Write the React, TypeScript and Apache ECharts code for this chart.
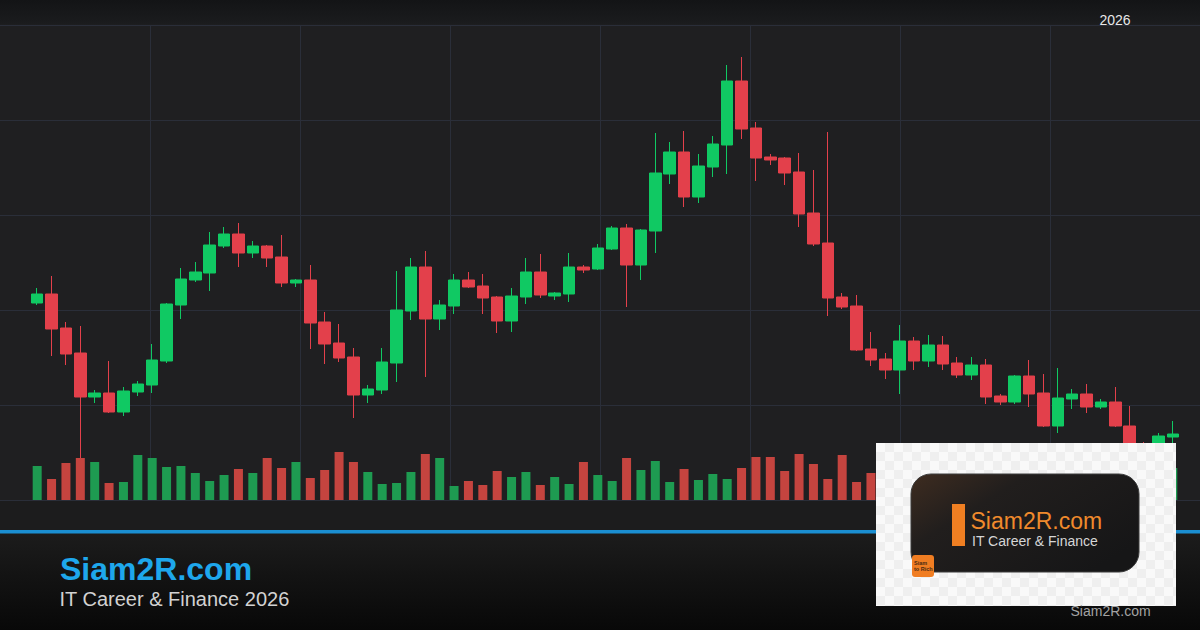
import React, { useEffect, useRef } from "react";
import * as echarts from "echarts";

// Daily OHLC: [open, close, low, high]
const ohlc: number[][] = [
  [197, 206, 195, 212], [206, 171, 144, 224], [172, 146, 135, 178], [147, 103, 42, 174],
  [103, 107, 97, 110], [107, 88, 87, 139], [88, 109, 84, 113], [108, 116, 104, 119],
  [115, 140, 107, 156], [139, 196, 137, 197], [195, 221, 181, 232], [220, 228, 218, 238],
  [227, 255, 209, 268], [254, 266, 252, 273], [266, 247, 233, 277], [247, 254, 242, 259],
  [254, 242, 233, 255], [243, 217, 213, 265], [217, 220, 213, 221], [220, 177, 151, 235],
  [178, 156, 136, 188], [157, 142, 138, 176], [143, 105, 82, 152], [105, 111, 97, 115],
  [110, 138, 106, 152], [137, 190, 118, 229], [189, 233, 180, 242], [233, 181, 123, 249],
  [181, 195, 170, 200], [194, 220, 186, 226], [220, 213, 212, 228], [214, 202, 186, 226],
  [203, 179, 167, 204], [179, 204, 168, 212], [203, 228, 196, 242], [228, 205, 202, 246],
  [204, 207, 200, 208], [206, 233, 198, 247], [233, 230, 227, 235], [231, 252, 230, 256],
  [251, 272, 250, 274], [272, 235, 193, 276], [235, 270, 220, 271], [269, 327, 247, 367],
  [326, 348, 316, 358], [348, 303, 293, 369], [303, 334, 297, 346], [333, 356, 323, 364],
  [355, 419, 326, 435], [419, 371, 361, 443], [372, 342, 319, 378], [343, 340, 335, 346],
  [342, 327, 315, 343], [328, 286, 273, 347], [287, 256, 254, 330], [257, 202, 184, 368],
  [203, 193, 191, 207], [194, 150, 149, 205], [151, 140, 134, 168], [141, 130, 121, 147],
  [130, 159, 106, 175], [159, 139, 130, 163], [139, 155, 133, 165], [155, 136, 130, 164],
  [137, 125, 122, 143], [125, 135, 120, 143], [135, 103, 96, 141], [104, 98, 95, 106],
  [98, 124, 96, 125], [124, 106, 93, 140], [107, 74, 73, 126], [74, 102, 67, 132],
  [101, 106, 91, 111], [106, 93, 87, 116], [93, 98, 91, 101], [98, 74, 73, 113],
  [74, 53, 48, 94], [53, 50, 44, 58], [52, 64, 50, 67], [63, 66, 57, 79],
];

// Volume (thousands)
const volumes: number[] = [
  680, 420, 740, 840, 760, 340, 360, 900, 840, 660,
  680, 540, 380, 500, 620, 540, 840, 640, 760, 440,
  600, 960, 760, 560, 320, 340, 560, 920, 840, 280,
  380, 300, 580, 460, 560, 300, 460, 320, 760, 500,
  380, 840, 600, 780, 360, 620, 400, 520, 420, 640,
  860, 860, 580, 920, 720, 420, 900, 360, 540, 600,
  760, 500, 560, 660, 400, 480, 700, 360, 520, 600,
  800, 720, 440, 540, 380, 620, 740, 480, 580, 640,
];

// Trading-day labels (hidden axis)
const categories: string[] = (() => {
  const out: string[] = [];
  const d = new Date(Date.UTC(2025, 8, 1));
  while (out.length < ohlc.length) {
    const wd = d.getUTCDay();
    if (wd !== 0 && wd !== 6) {
      out.push(`${d.getUTCFullYear()}-${String(d.getUTCMonth() + 1).padStart(2, "0")}-${String(d.getUTCDate()).padStart(2, "0")}`);
    }
    d.setUTCDate(d.getUTCDate() + 1);
  }
  return out;
})();

const titleText = "Siam2R.com";
const subtitleText = "IT Career & Finance 2026";
const yearText = "2026";
const cardTitle = "Siam2R.com";
const cardSubtitle = "IT Career & Finance";

const UP = "#10c963";
const DOWN = "#e3404b";
const VOL_UP = "#1e9b51";
const VOL_DOWN = "#c5443f";
const GRID_LINE = "#2a2e39";
const FONT = "'Liberation Sans', Arial, sans-serif";

function buildChecker() {
  const items: any[] = [];
  const x0 = 876, y0 = 443, w = 300, h = 163, s = 9;
  for (let r = 0; r * s < h; r++) {
    for (let c = 0; c * s < w; c++) {
      if ((r + c) % 2 === 1) {
        items.push({
          type: "rect",
          z: 100,
          silent: true,
          shape: { x: x0 + c * s, y: y0 + r * s, width: Math.min(s, w - c * s), height: Math.min(s, h - r * s) },
          style: { fill: "#efefef" },
        });
      }
    }
  }
  return items;
}

export default function App() {
  const ref = useRef<HTMLDivElement>(null);

  useEffect(() => {
    if (!ref.current) return;
    const chart = echarts.init(ref.current, null, { renderer: "svg" });

    const volData = volumes.map((v, i) => ({
      value: v,
      itemStyle: { color: ohlc[i][1] >= ohlc[i][0] ? VOL_UP : VOL_DOWN },
    }));

    const hiddenAxis = {
      axisLine: { show: false },
      axisTick: { show: false },
      axisLabel: { show: false },
    };

    const option: any = {
      animation: false,
      backgroundColor: "#1f1f21",
      grid: [
        { left: 0, right: 0, top: 25, bottom: 130, show: false },
        { left: 30, right: 20, top: 25, bottom: 130, show: false },
      ],
      xAxis: [
        {
          type: "value", gridIndex: 0, min: 0, max: 1200, interval: 150, ...hiddenAxis,
          splitLine: { show: true, showMinLine: false, showMaxLine: false, lineStyle: { color: GRID_LINE, width: 1 } },
        },
        {
          type: "category", gridIndex: 1, data: categories, boundaryGap: true, ...hiddenAxis,
          splitLine: { show: false },
        },
      ],
      yAxis: [
        {
          type: "value", gridIndex: 0, min: 0, max: 5, interval: 1, ...hiddenAxis,
          splitLine: { show: true, lineStyle: { color: GRID_LINE, width: 1 } },
        },
        { type: "value", gridIndex: 1, min: 0, max: 475, ...hiddenAxis, splitLine: { show: false } },
        { type: "value", gridIndex: 1, min: 0, max: 9500, ...hiddenAxis, splitLine: { show: false } },
      ],
      series: [
        {
          type: "bar",
          xAxisIndex: 1,
          yAxisIndex: 2,
          data: volData,
          barWidth: 9,
          z: 2,
        },
        {
          type: "candlestick",
          xAxisIndex: 1,
          yAxisIndex: 1,
          data: ohlc,
          barWidth: 12,
          z: 3,
          itemStyle: {
            color: UP,
            color0: DOWN,
            borderColor: UP,
            borderColor0: DOWN,
            borderWidth: 1,
          },
        },
      ],
      graphic: [
        {
          type: "rect", z: -1, silent: true,
          shape: { x: 0, y: 0, width: 1200, height: 24.5 },
          style: {
            fill: { type: "linear", x: 0, y: 0, x2: 0, y2: 1, colorStops: [{ offset: 0, color: "#131416" }, { offset: 1, color: "#1b1c1e" }] },
          },
        },
        {
          type: "rect", z: -1, silent: true,
          shape: { x: 0, y: 500.5, width: 1200, height: 30 },
          style: { fill: "#1c1c1d" },
        },
        {
          type: "rect", z: -1, silent: true,
          shape: { x: 0, y: 533, width: 1200, height: 97 },
          style: {
            fill: { type: "linear", x: 0, y: 0, x2: 0, y2: 1, colorStops: [{ offset: 0, color: "#1c1c1c" }, { offset: 1, color: "#080808" }] },
          },
        },
        {
          type: "rect", z: 50, silent: true,
          shape: { x: 0, y: 530, width: 1200, height: 3.5 },
          style: { fill: "#1b8fd2" },
        },
        {
          type: "text", z: 50, x: 60, y: 568.5,
          style: { text: titleText, fill: "#1ea7ec", font: `bold 32px ${FONT}`, textAlign: "left", textVerticalAlign: "middle" },
        },
        {
          type: "text", z: 50, x: 59.5, y: 599,
          style: { text: subtitleText, fill: "#d2d2d2", font: `20px ${FONT}`, textAlign: "left", textVerticalAlign: "middle" },
        },
        {
          type: "text", z: 50, x: 1099.5, y: 20,
          style: { text: yearText, fill: "#e8e8e8", font: `14px ${FONT}`, textAlign: "left", textVerticalAlign: "middle" },
        },
        // Logo image block
        {
          type: "rect", z: 99, silent: true,
          shape: { x: 876, y: 443, width: 300, height: 163 },
          style: { fill: "#f9f9f9" },
        },
        ...buildChecker(),
        {
          type: "rect", z: 101, silent: true,
          shape: { x: 911, y: 474, width: 228, height: 98, r: 20 },
          style: {
            fill: {
              type: "linear", x: 0, y: 0, x2: 1, y2: 0.7,
              colorStops: [
                { offset: 0, color: "#3e2c20" },
                { offset: 0.35, color: "#211e1d" },
                { offset: 1, color: "#161617" },
              ],
            },
            stroke: "#3c3c3c",
            lineWidth: 1,
          },
        },
        {
          type: "rect", z: 102, silent: true,
          shape: { x: 952, y: 504, width: 13, height: 42 },
          style: { fill: "#f07f22" },
        },
        {
          type: "text", z: 102, x: 970.5, y: 521,
          style: { text: cardTitle, fill: "#f08a2c", font: `23px ${FONT}`, textAlign: "left", textVerticalAlign: "middle" },
        },
        {
          type: "text", z: 102, x: 972, y: 541,
          style: { text: cardSubtitle, fill: "#d6d6d6", font: `14px ${FONT}`, textAlign: "left", textVerticalAlign: "middle" },
        },
        {
          type: "rect", z: 102, silent: true,
          shape: { x: 912, y: 555, width: 22, height: 22, r: 3 },
          style: { fill: "#f07d22" },
        },
        {
          type: "text", z: 103, x: 914, y: 562.5,
          style: { text: "Siam", fill: "#4a2a12", font: `bold 5.5px ${FONT}`, textAlign: "left", textVerticalAlign: "middle" },
        },
        {
          type: "text", z: 103, x: 914, y: 568.5,
          style: { text: "to Rich", fill: "#4a2a12", font: `bold 5.5px ${FONT}`, textAlign: "left", textVerticalAlign: "middle" },
        },
        {
          type: "text", z: 110, x: 1070.5, y: 610.5,
          style: { text: "Siam2R.com", fill: "#a3a3a3", font: `14px ${FONT}`, textAlign: "left", textVerticalAlign: "middle" },
        },
      ],
    };

    chart.setOption(option);
    return () => chart.dispose();
  }, []);

  return (
    <div
      ref={ref}
      style={{ position: "absolute", left: 0, top: 0, width: 1200, height: 630 }}
    />
  );
}
